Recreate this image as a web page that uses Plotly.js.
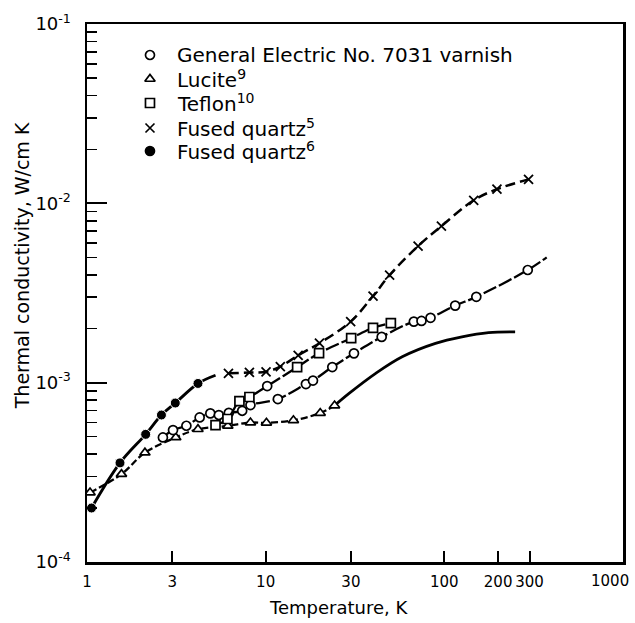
<!DOCTYPE html>
<html>
<head>
<meta charset="utf-8">
<script src="https://cdn.plot.ly/plotly-3.0.1.min.js"></script>
<style>html,body{margin:0;padding:0;background:#fff;}#chart{width:635px;height:623px;}</style>
</head>
<body>
<div id="chart"></div>
<script>
// ---- Data (T in K, k in W/cm K) ----
const varnishT = [2.66, 3.03, 3.60, 4.27, 4.90, 5.47, 6.22, 7.39, 8.22, 11.7, 16.8, 18.4, 23.6, 31.2, 44.6, 67.5, 74.5, 83.7, 115, 151, 293, 374];
const varnishK = [4.95e-4, 5.44e-4, 5.75e-4, 6.40e-4, 6.74e-4, 6.60e-4, 6.79e-4, 6.97e-4, 7.50e-4, 8.10e-4, 9.82e-4, 1.027e-3, 1.222e-3, 1.457e-3, 1.80e-3, 2.19e-3, 2.21e-3, 2.30e-3, 2.69e-3, 3.01e-3, 4.25e-3, 5.0e-3];
const varnishMarked = [1,1,1,1,1,1,1,1,1,1,1,1,1,1,1,1,1,1,1,1,1,0];

const luciteT = [1.04, 1.56, 2.11, 3.14, 4.18, 6.14, 8.22, 10.1, 14.3, 20.2, 24.3];
const luciteK = [2.44e-4, 3.09e-4, 4.07e-4, 4.95e-4, 5.50e-4, 5.74e-4, 5.99e-4, 5.97e-4, 6.17e-4, 6.77e-4, 7.45e-4];

const solidT = [24.3, 29.3, 41.3, 58.1, 89.2, 125.5, 176.8, 249];
const solidK = [7.45e-4, 8.71e-4, 1.127e-3, 1.394e-3, 1.656e-3, 1.80e-3, 1.90e-3, 1.92e-3];

const teflonT = [5.24, 6.11, 7.13, 8.11, 10.2, 15.0, 19.9, 30.1, 39.9, 50.2];
const teflonK = [5.80e-4, 6.27e-4, 7.89e-4, 8.32e-4, 9.57e-4, 1.22e-3, 1.46e-3, 1.77e-3, 2.02e-3, 2.15e-3];
const teflonShape = ['square','square','square','square','circle','square','square','square','square','square'];

const quartz5T = [6.19, 8.11, 10.05, 12.08, 15.2, 20.0, 29.9, 39.9, 49.4, 71.3, 96.3, 146, 197, 296];
const quartz5K = [1.127e-3, 1.14e-3, 1.15e-3, 1.23e-3, 1.42e-3, 1.66e-3, 2.19e-3, 3.04e-3, 3.98e-3, 5.78e-3, 7.47e-3, 1.04e-2, 1.20e-2, 1.36e-2];

const quartz6T = [1.06, 1.53, 2.13, 2.61, 3.12, 4.18, 5.24];
const quartz6K = [2.0e-4, 3.57e-4, 5.15e-4, 6.6e-4, 7.7e-4, 9.9e-4, 1.10e-3];
const quartz6Marked = [1,1,1,1,1,1,0];

const legendNames = ['General Electric No. 7031 varnish', 'Lucite<sup>9</sup>', 'Teflon<sup>10</sup>', 'Fused quartz<sup>5</sup>', 'Fused quartz<sup>6</sup>'];
const legendSymbols = ['circle', 'triangle-up', 'square', 'x-thin', 'circle'];
const legendFills = ['#fff', '#fff', '#fff', '#000', '#000'];

const xTickVals = [1, 3, 10, 30, 100, 200, 300];
const xTickText = ['1', '3', '10', '30', '100', '200', '300'];
const xEndLabel = '1000';
const yTickVals = [1e-4, 1e-3, 1e-2, 1e-1];
const yTickText = ['10<sup>-4</sup>', '10<sup>-3</sup>', '10<sup>-2</sup>', '10<sup>-1</sup>'];
const yMinorVals = [2e-4,3e-4,4e-4,5e-4,6e-4,7e-4,8e-4,9e-4,2e-3,3e-3,4e-3,5e-3,6e-3,7e-3,8e-3,9e-3,2e-2,3e-2,4e-2,5e-2,6e-2,7e-2,8e-2,9e-2];

// ---- Styles / layout constants ----
const FONT = 'DejaVu Sans, sans-serif';
const BLK = '#000';
const legendX = 0.1175, legendTextX = 0.164;
const legendY = [0.9424, 0.8978, 0.8532, 0.8067, 0.7639];

const openMarker = (sym, size) => ({symbol: sym, size: size, color: '#fff', opacity: 1, line: {color: BLK, width: 1.7}});

const traces = [
  {x: solidT, y: solidK, mode: 'lines', showlegend: false, hoverinfo: 'skip',
   line: {color: BLK, width: 2.7, shape: 'spline'}},
  {x: luciteT, y: luciteK, mode: 'lines+markers', showlegend: false,
   line: {color: BLK, width: 2.3, dash: '7px,3px', shape: 'spline'},
   marker: openMarker('triangle-up', 9)},
  {x: varnishT, y: varnishK, mode: 'lines+markers', showlegend: false,
   line: {color: BLK, width: 2.3, dash: '14px,3px', shape: 'spline'},
   marker: {symbol: 'circle', size: varnishMarked.map(m => m ? 9 : 0), color: '#fff', opacity: 1, line: {color: BLK, width: 1.7}}},
  {x: teflonT, y: teflonK, mode: 'lines+markers', showlegend: false,
   line: {color: BLK, width: 2.3, dash: '14px,3px', shape: 'spline'},
   marker: {symbol: teflonShape, size: 9, color: '#fff', opacity: 1, line: {color: BLK, width: 1.7}}},
  {x: quartz5T, y: quartz5K, mode: 'lines+markers', showlegend: false,
   line: {color: BLK, width: 2.5, dash: '10px,5px', shape: 'spline'},
   marker: {symbol: 'x-thin', size: 9, color: BLK, opacity: 1, line: {color: BLK, width: 1.8}}},
  {x: quartz6T, y: quartz6K, mode: 'lines+markers', showlegend: false,
   line: {color: BLK, width: 2.9, shape: 'spline'},
   marker: {symbol: 'circle', size: quartz6Marked.map(m => m ? 10 : 0), color: BLK, opacity: 1}},
  // legend symbols, placed on an overlay axis spanning the plot area
  {x: legendY.map(() => legendX), y: legendY, xaxis: 'x2', yaxis: 'y2', mode: 'markers', showlegend: false, hoverinfo: 'skip',
   marker: {symbol: legendSymbols, size: 9, color: legendFills, opacity: 1, line: {color: BLK, width: 1.7}}}
];

const layout = {
  width: 635, height: 623,
  margin: {l: 87, r: 12, t: 24, b: 61},
  paper_bgcolor: '#fff', plot_bgcolor: '#fff',
  font: {family: FONT, color: BLK, size: 16},
  showlegend: false,
  xaxis: {
    type: 'log', range: [0, 3], showgrid: false, zeroline: false,
    showline: true, linewidth: 2.5, linecolor: BLK, mirror: true,
    ticks: 'inside', ticklen: 11, tickwidth: 2, tickcolor: BLK, tickangle: 0,
    tickvals: xTickVals, ticktext: xTickText, tickfont: {size: 15}, ticklabelstandoff: 4,
    title: {text: ''}
  },
  yaxis: {
    type: 'log', range: [-4, -1], showgrid: false, zeroline: false,
    showline: true, linewidth: 2.5, linecolor: BLK, mirror: true,
    ticks: 'inside', ticklen: 20, tickwidth: 2, tickcolor: BLK,
    tickvals: yTickVals, ticktext: yTickText, tickfont: {size: 18},
    ticklabelstandoff: 10,
    minor: {tickvals: yMinorVals, ticks: 'inside', ticklen: 10, tickwidth: 1.6, tickcolor: BLK, showgrid: false},
    title: {text: ''}
  },
  xaxis2: {overlaying: 'x', range: [0, 1], visible: false, fixedrange: true},
  yaxis2: {overlaying: 'y', range: [0, 1], visible: false, fixedrange: true},
  annotations: [
    ...legendNames.map((name, i) => ({text: name, xref: 'paper', yref: 'paper', x: legendTextX, y: legendY[i],
      xanchor: 'left', yanchor: 'middle', showarrow: false, font: {family: FONT, size: 20, color: BLK}})),
    {text: xEndLabel, xref: 'paper', yref: 'paper', x: 1, y: 0, xanchor: 'right', yanchor: 'middle',
     xshift: 8, yshift: -19, showarrow: false, font: {family: FONT, size: 15, color: BLK}},
    {text: 'Temperature, K', xref: 'paper', yref: 'paper', x: 0.47, y: -0.062, xanchor: 'center', yanchor: 'top',
     showarrow: false, font: {family: FONT, size: 18, color: BLK}},
    {text: 'Thermal conductivity, W/cm K', xref: 'paper', yref: 'paper', x: -0.121, y: 0.55, xanchor: 'center', yanchor: 'middle',
     textangle: -90, showarrow: false, font: {family: FONT, size: 19, color: BLK}}
  ]
};

Plotly.newPlot('chart', traces, layout, {displayModeBar: false, staticPlot: true});
</script>
</body>
</html>
